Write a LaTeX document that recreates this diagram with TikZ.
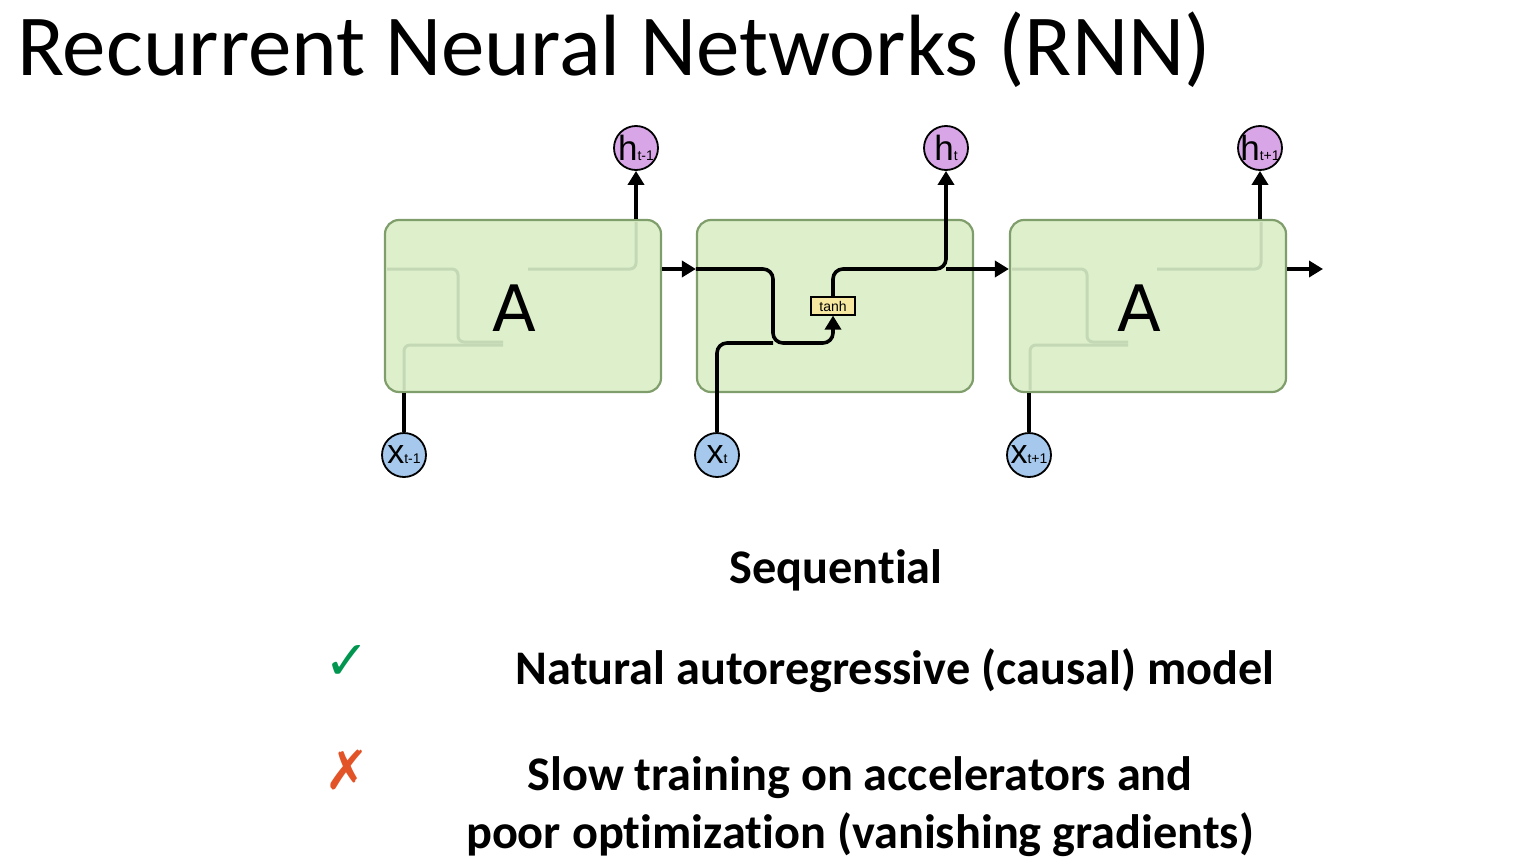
\documentclass[tikz,border=0pt]{standalone}
\usepackage{fontspec}
\setmainfont[Ligatures=NoCommon]{Carlito}
\newfontfamily\symfont{DejaVu Sans}
\newfontfamily\diagfont{Liberation Sans}
\newfontfamily\letterfont{DejaVu Sans}
\usetikzlibrary{arrows.meta}
\definecolor{cellfill}{RGB}{221,240,203}
\definecolor{celldraw}{RGB}{128,158,108}
\definecolor{ghost}{RGB}{196,216,182}
\definecolor{hfill}{RGB}{216,166,230}
\definecolor{xfill}{RGB}{165,200,236}
\definecolor{tanhfill}{RGB}{246,232,160}
\definecolor{okgreen}{RGB}{0,150,80}
\definecolor{badred}{RGB}{226,84,40}
\tikzset{
  cell/.style={draw=celldraw, line width=2.2pt, fill=cellfill, rounded corners=14pt, minimum width=276pt, minimum height=172pt, inner sep=0pt},
  hnode/.style={circle, draw=black, line width=1.8pt, fill=hfill, minimum size=44pt, inner sep=0pt, font=\diagfont},
  xnode/.style={circle, draw=black, line width=1.8pt, fill=xfill, minimum size=44pt, inner sep=0pt, font=\diagfont},
  wire/.style={line width=3.6pt, black},
  arr/.style={wire, -{Triangle[length=14pt,width=16pt]}},
  ghostwire/.style={line width=3pt, ghost, rounded corners=6pt},
  tanhbox/.style={draw=black, line width=1.2pt, fill=tanhfill, minimum width=44pt, minimum height=18pt, inner sep=0pt, font=\diagfont\fontsize{14}{14}\selectfont},
  big/.style={font=\fontsize{48.3}{50}\bfseries\selectfont},
}
\newcommand{\hlab}[1]{\makebox[0pt]{\fontsize{35}{35}\selectfont h\fontsize{14}{14}\selectfont #1}}
\newcommand{\xlab}[1]{\makebox[0pt]{\fontsize{34}{34}\selectfont x\fontsize{14}{14}\selectfont #1}}
\begin{document}
\begin{tikzpicture}[x=1pt,y=-1pt]
\useasboundingbox (0,0) rectangle (1530,859);
% title
\node[anchor=base west, inner sep=0pt, font=\fontsize{87}{90}\selectfont] (title) at (17,75) {Recurrent Neural Networks (RNN)};
% cells
\node[cell] (A1) at (523,306) {};
\node[cell] (A2) at (835,306) {};
\node[cell] (A3) at (1148,306) {};
% ghost wires in A1 and A3
\draw[ghostwire] (387,269) -- (458,269) -- (458,342) -- (503,342);
\draw[ghostwire] (404,390) -- (404,345) -- (503,345);
\draw[ghostwire] (528,269) -- (636,269) -- (636,222);
\draw[ghostwire] (1012,269) -- (1087,269) -- (1087,342) -- (1128,342);
\draw[ghostwire] (1030,390) -- (1030,345) -- (1128,345);
\draw[ghostwire] (1157,269) -- (1261,269) -- (1261,222);
\node[font=\letterfont\fontsize{64}{64}\selectfont] (la1) at (514,308) {A};
\node[font=\letterfont\fontsize{64}{64}\selectfont] (la3) at (1139,308) {A};
% circles
\node[hnode] (h1) at (636,148) {\hlab{t-1}};
\node[hnode] (h2) at (946,148) {\hlab{t}};
\node[hnode] (h3) at (1260,148) {\hlab{t+1}};
\node[xnode] (x1) at (404,455) {\xlab{t-1}};
\node[xnode] (x2) at (717,455) {\xlab{t}};
\node[xnode] (x3) at (1029,455) {\xlab{t+1}};
% tanh
\node[tanhbox] (tanh) at (833,306) {tanh};
% coordinates
\coordinate (r1) at ([yshift=37pt]A1.east);
\coordinate (l2) at ([yshift=37pt]A2.west);
\coordinate (l3) at ([yshift=37pt]A3.west);
\coordinate (r3) at ([yshift=37pt]A3.east);
\coordinate (out3) at (1323,269);
\coordinate (mix) at (773,343);
% connectors
\draw[arr] (h1.south |- A1.north) -- (h1.south);
\draw[arr] (h3.south |- A3.north) -- (h3.south);
\draw[wire] (x1.north) -- (x1.north |- A1.south);
\draw[wire] (x3.north) -- (x3.north |- A3.south);
\draw[arr] (r1) -- (l2);
\draw[arr, rounded corners=10pt] (l2) -| (mix) -| (tanh.south);
\draw[wire, rounded corners=10pt] (x2.north) |- (mix);
\draw[arr, rounded corners=10pt] (tanh.north) |- (l2 -| h2) -- (h2.south);
\draw[arr] (l2 -| h2) -- (l3);
\draw[arr] (r3) -- (out3);
% texts
\node[big, anchor=base] (seq) at (836,583) {Sequential};
\node[big, anchor=base] (t1) at (895,684) {Natural autoregressive (causal) model};
\node[big, anchor=base] (t2) at (860,790) {Slow training on accelerators and};
\node[big, anchor=base] (t3) at (860,848) {poor optimization (vanishing gradients)};
\node[font=\symfont\fontsize{54}{54}\selectfont, text=okgreen] (ok) at (347,662) {✓};
\node[font=\symfont\fontsize{54}{54}\selectfont, text=badred] (bad) at (347,770) {✗};
\end{tikzpicture}
\end{document}
